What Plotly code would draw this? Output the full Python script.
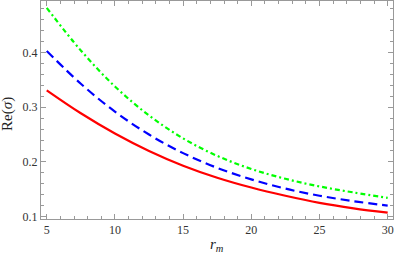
import plotly.graph_objects as go

r_m = [5, 7.5, 10, 12.5, 15, 17.5, 20, 22.5, 25, 27.5, 30]
re_sigma_red = [0.331, 0.289, 0.252, 0.220, 0.193, 0.171, 0.153, 0.138, 0.125, 0.115, 0.107]
re_sigma_blue = [0.403, 0.343, 0.292, 0.250, 0.216, 0.189, 0.168, 0.151, 0.138, 0.128, 0.120]
re_sigma_green = [0.482, 0.404, 0.338, 0.285, 0.243, 0.211, 0.187, 0.169, 0.155, 0.144, 0.134]

x_tick_vals = [5, 10, 15, 20, 25, 30]
y_tick_vals = [0.1, 0.2, 0.3, 0.4]

fig = go.Figure()
fig.add_trace(go.Scatter(x=r_m, y=re_sigma_green, mode="lines", line_shape="spline",
                         line=dict(color="#00ff00", width=2.2, dash="5px,3px,2px,3px")))
fig.add_trace(go.Scatter(x=r_m, y=re_sigma_blue, mode="lines", line_shape="spline",
                         line=dict(color="#0000ff", width=2.2, dash="9px,5px")))
fig.add_trace(go.Scatter(x=r_m, y=re_sigma_red, mode="lines", line_shape="spline",
                         line=dict(color="#ff0000", width=2.2)))

frame = "#999999"
tickfont = dict(family="Liberation Serif", size=12, color="#333333")

fig.update_layout(
    width=395, height=259,
    margin=dict(l=41, r=2, t=1, b=40, autoexpand=False),
    paper_bgcolor="white", plot_bgcolor="white",
    showlegend=False,
    xaxis=dict(range=[4.58, 30.39], tickvals=x_tick_vals, ticks="inside", ticklen=5,
               tickcolor=frame, showline=True, linecolor=frame, linewidth=1, mirror="allticks",
               showgrid=False, zeroline=False, tickfont=tickfont, automargin=False,
               ticklabeloverflow="allow",
               minor=dict(dtick=1, ticks="inside", ticklen=3, tickcolor=frame, showgrid=False)),
    yaxis=dict(range=[0.0954, 0.4945], tickvals=y_tick_vals, tickformat=".1f", ticks="inside", ticklen=5,
               tickcolor=frame, showline=True, linecolor=frame, linewidth=1, mirror="allticks",
               showgrid=False, zeroline=False, tickfont=tickfont, automargin=False,
               ticklabeloverflow="allow",
               minor=dict(dtick=0.02, tick0=0.1, ticks="inside", ticklen=3, tickcolor=frame, showgrid=False)),
    annotations=[
        dict(text="Re(<i>σ</i>)", xref="paper", yref="paper", x=-0.095, y=0.48,
             xanchor="center", yanchor="middle", textangle=-90, showarrow=False,
             font=dict(family="Liberation Serif", size=15, color="#222222")),
        dict(text="<i>r<sub>m</sub></i>", xref="paper", yref="paper", x=0.5, y=-0.12,
             xanchor="center", yanchor="middle", showarrow=False,
             font=dict(family="Liberation Serif", size=15, color="#222222")),
    ],
)

fig.write_html("out.html", config={"displayModeBar": False},
               post_script="document.body.style.margin='0px';")
